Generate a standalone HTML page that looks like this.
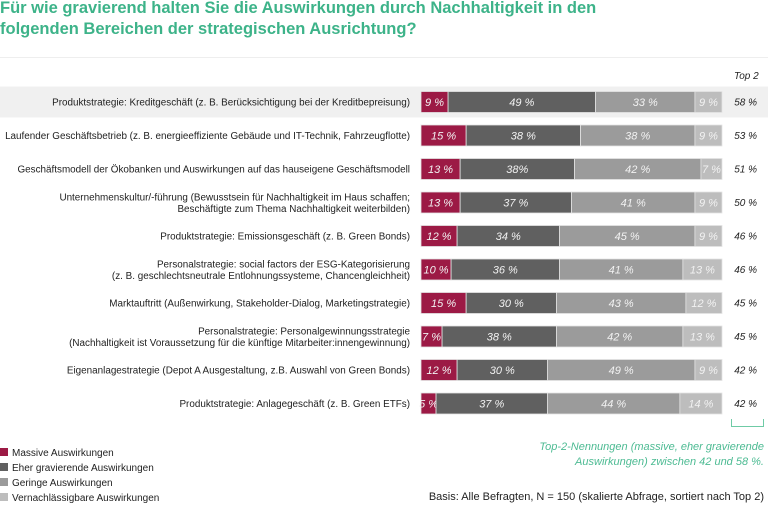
<!DOCTYPE html>
<html><head><meta charset="utf-8"><style>
body{margin:0;width:768px;height:504px;overflow:hidden;background:#fff;font-family:"Liberation Sans",sans-serif;position:relative}
.t{position:absolute;white-space:nowrap}
</style></head><body>
<div class="t" style="left:0;top:-2px;font-size:16.5px;font-weight:bold;color:#3db389;line-height:21px">Für wie gravierend halten Sie die Auswirkungen durch Nachhaltigkeit in den<br>folgenden Bereichen der strategischen Ausrichtung?</div>
<div style="position:absolute;left:0;top:57px;width:768px;height:1px;background:#eee"></div>
<div class="t" style="left:734px;top:71px;font-size:10px;font-style:italic;color:#222">Top 2</div>
<svg id="chart" width="768" height="504" style="position:absolute;left:0;top:0"></svg>
<div class="t" style="left:0;top:446px;font-size:10px;color:#222;line-height:15px">
<div><span style="display:inline-block;width:8px;height:8px;background:#9c1a45;margin-right:4px"></span>Massive Auswirkungen</div>
<div><span style="display:inline-block;width:8px;height:8px;background:#606060;margin-right:4px"></span>Eher gravierende Auswirkungen</div>
<div><span style="display:inline-block;width:8px;height:8px;background:#9b9b9b;margin-right:4px"></span>Geringe Auswirkungen</div>
<div><span style="display:inline-block;width:8px;height:8px;background:#bdbdbd;margin-right:4px"></span>Vernachlässigbare Auswirkungen</div>
</div>
<div style="position:absolute;left:731px;top:419px;width:31px;height:7px;border:1px solid #6fcba6;border-top:none"></div>
<div class="t" style="right:4px;top:440px;font-size:11px;font-style:italic;color:#4dbb93;text-align:right;line-height:15px">Top-2-Nennungen (massive, eher gravierende<br>Auswirkungen) zwischen 42 und 58 %.</div>
<div class="t" style="right:4px;top:491px;font-size:11px;color:#222">Basis: Alle Befragten, N = 150 (skalierte Abfrage, sortiert nach Top 2)</div>
<script>
const categories=[
["Produktstrategie: Kreditgeschäft (z. B. Berücksichtigung bei der Kreditbepreisung)"],
["Laufender Geschäftsbetrieb (z. B. energieeffiziente Gebäude und IT-Technik, Fahrzeugflotte)"],
["Geschäftsmodell der Ökobanken und Auswirkungen auf das hauseigene Geschäftsmodell"],
["Unternehmenskultur/-führung (Bewusstsein für Nachhaltigkeit im Haus schaffen;","Beschäftigte zum Thema Nachhaltigkeit weiterbilden)"],
["Produktstrategie: Emissionsgeschäft (z. B. Green Bonds)"],
["Personalstrategie: social factors der ESG-Kategorisierung","(z. B. geschlechtsneutrale Entlohnungssysteme, Chancengleichheit)"],
["Marktauftritt (Außenwirkung, Stakeholder-Dialog, Marketingstrategie)"],
["Personalstrategie: Personalgewinnungsstrategie","(Nachhaltigkeit ist Voraussetzung für die künftige Mitarbeiter:innengewinnung)"],
["Eigenanlagestrategie (Depot A Ausgestaltung, z.B. Auswahl von Green Bonds)"],
["Produktstrategie: Anlagegeschäft (z. B. Green ETFs)"]];
const massive=[9,15,13,13,12,10,15,7,12,5];
const eher=[49,38,38,37,34,36,30,38,30,37];
const geringe=[33,38,42,41,45,41,43,42,49,44];
const vernachl=[9,9,7,9,9,13,12,13,9,14];
const top2=[58,53,51,50,46,46,45,45,42,42];
const valueLabels=[
["9 %","49 %","33 %","9 %"],["15 %","38 %","38 %","9 %"],["13 %","38%","42 %","7 %"],["13 %","37 %","41 %","9 %"],["12 %","34 %","45 %","9 %"],
["10 %","36 %","41 %","13 %"],["15 %","30 %","43 %","12 %"],["7 %","38 %","42 %","13 %"],["12 %","30 %","49 %","9 %"],["5 %","37 %","44 %","14 %"]];
const NS="http://www.w3.org/2000/svg";
const svg=document.getElementById('chart');
const x0=421,x1=722,rowTop=102,pitch=33.5,barH=21;
const colors=["#9c1a45","#606060","#9b9b9b","#bdbdbd"];
function yc(i){return rowTop+i*pitch;}
function mk(tag,attrs){const e=document.createElementNS(NS,tag);for(const k in attrs)e.setAttribute(k,attrs[k]);svg.appendChild(e);return e;}
const hl=mk('rect',{x:0,y:yc(0)-15.5,width:768,height:31,fill:'#f0f0f0'});


const series=[massive,eher,geringe,vernachl];
const segNames=['massive','eher','geringe','vernachl'];
categories.forEach((lines,i)=>{
  const y=yc(i);
  const tot=series.reduce((s,a)=>s+a[i],0);
  let cx=x0;
  series.forEach((arr,k)=>{
    const w=arr[i]/tot*(x1-x0);
    const r=mk('rect',{x:cx,y:y-barH/2,width:w,height:barH,fill:colors[k],stroke:'#e4e4e4','stroke-width':0.8});
    
    
    const t=mk('text',{x:cx+w/2,y:y+4,'font-size':11,'font-style':'italic',fill:'#f2f2f2','text-anchor':'middle','font-family':'Liberation Sans, sans-serif'});
    t.textContent=valueLabels[i][k];
    
    
    cx+=w;
  });
  const lab=mk('text',{x:410,y:lines.length>1?y-2:y+3.5,'font-size':9.9,fill:'#222','text-anchor':'end','font-family':'Liberation Sans, sans-serif'});
  
  
  lines.forEach((l,j)=>{const ts=document.createElementNS(NS,'tspan');ts.setAttribute('x',410);if(j>0)ts.setAttribute('dy',11.5);ts.textContent=l;lab.appendChild(ts);});
  const tp=mk('text',{x:757,y:y+3.5,'font-size':10,'font-style':'italic',fill:'#222','text-anchor':'end','font-family':'Liberation Sans, sans-serif'});
  tp.textContent=top2[i]+' %';
  
  
});
</script>
</body></html>
